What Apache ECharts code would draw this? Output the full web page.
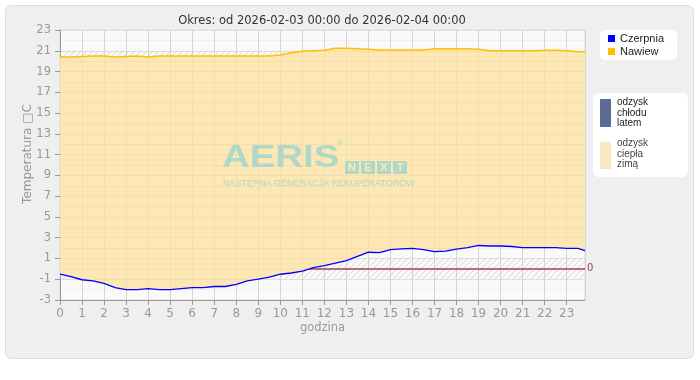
<!DOCTYPE html>
<html>
<head>
<meta charset="utf-8">
<script src="https://cdn.jsdelivr.net/npm/echarts@6/dist/echarts.min.js"></script>
<style>
html,body{margin:0;padding:0;background:#fff;}
#c{width:700px;height:380px;}
</style>
</head>
<body>
<div id="c"></div>
<script>
const titleText = 'Okres: od 2026-02-03 00:00 do 2026-02-04 00:00';
const hours = [0,0.5,1,1.5,2,2.5,3,3.5,4,4.5,5,5.5,6,6.5,7,7.5,8,8.5,9,9.5,10,10.5,11,11.5,12,12.5,13,13.5,14,14.5,15,15.5,16,16.5,17,17.5,18,18.5,19,19.5,20,20.5,21,21.5,22,22.5,23,23.5,23.83];
const czerpnia = [-0.5,-0.75,-1.05,-1.15,-1.4,-1.8,-2.0,-2.0,-1.9,-2.0,-2.0,-1.9,-1.8,-1.8,-1.7,-1.7,-1.5,-1.15,-1.0,-0.8,-0.52,-0.4,-0.22,0.11,0.3,0.55,0.8,1.2,1.6,1.56,1.85,1.92,1.98,1.85,1.65,1.7,1.9,2.05,2.25,2.2,2.2,2.15,2.05,2.05,2.05,2.05,1.98,1.98,1.75];
const nawiew = [20.4,20.4,20.45,20.5,20.5,20.4,20.45,20.5,20.4,20.5,20.5,20.5,20.5,20.5,20.5,20.5,20.5,20.5,20.5,20.5,20.6,20.8,20.95,21.0,21.05,21.25,21.25,21.2,21.15,21.07,21.07,21.07,21.07,21.07,21.2,21.2,21.2,21.2,21.15,21.0,21.0,21.0,21.0,21.0,21.05,21.05,21.0,20.9,20.9];
const yLabelValues = [-3,-1,1,3,5,7,9,11,13,15,17,19,21,23];
const comfortBands = [[-1,1],[19,21]];
const zeroLine = 0;
const seriesNames = ['Czerpnia','Nawiew'];
const legend2Items = [['odzysk','chłodu','latem'],['odzysk','ciepła','zimą']];

function hatch(){
  const c = document.createElement('canvas');
  c.width = 6; c.height = 6;
  const g = c.getContext('2d');
  g.strokeStyle = '#d8d8d8'; g.lineWidth = 1;
  g.beginPath(); g.moveTo(0,6); g.lineTo(6,0); g.stroke();
  g.beginPath(); g.moveTo(-1,1); g.lineTo(1,-1); g.stroke();
  g.beginPath(); g.moveTo(5,7); g.lineTo(7,5); g.stroke();
  return {image:c, repeat:'repeat'};
}

const czData = hours.map((h,i)=>[h,czerpnia[i]]);
const nwData = hours.map((h,i)=>[h,nawiew[i]]);
const fillData = hours.map((h,i)=>[h,czerpnia[i],nawiew[i]]);

const FONT = '"Liberation Sans", Arial, sans-serif';
const AXFONT = '"DejaVu Sans", Verdana, sans-serif';
const WM = '#b0d8c8';
const chart = echarts.init(document.getElementById('c'), null, {renderer:'canvas'});

function renderFill(params, api){
  if (params.dataIndex !== 0) return null;
  const pts = [];
  for (let i = 0; i < fillData.length; i++) pts.push(api.coord([fillData[i][0], fillData[i][2]]));
  for (let i = fillData.length - 1; i >= 0; i--) pts.push(api.coord([fillData[i][0], fillData[i][1]]));
  return {type:'polygon', shape:{points:pts}, style:{fill:'rgb(253,231,181)'}};
}

const wmText = (t, x) => ({type:'text', z:10, x:x, y:167.5, silent:true,
  style:{text:t, font:'bold 11px "Liberation Sans", Arial', fill:'#fde7b5', align:'center', verticalAlign:'middle'}});
const wmBox = (x) => ({type:'rect', z:10, silent:true, shape:{x:x, y:161, width:14, height:13}, style:{fill:WM}});

const overlayAxis = {show:true, axisLine:{show:false}, axisTick:{show:false}, axisLabel:{show:false}, z:3,
  splitLine:{show:true, lineStyle:{color:'rgba(170,130,60,0.07)'}}};

const option = {
  animation:false,
  backgroundColor:'#fff',
  textStyle:{fontFamily:FONT},
  title:{text:titleText, left:317, top:10, textAlign:'center',
    textStyle:{fontSize:11.5, fontWeight:'normal', color:'#333', fontFamily:AXFONT}},
  legend:{data:seriesNames, orient:'vertical', left:600, top:30,
    backgroundColor:'#fff', borderRadius:5, padding:[3,13,3,8], itemGap:2,
    itemWidth:7, itemHeight:7, icon:'rect',
    textStyle:{fontSize:11, color:'#222', fontFamily:FONT}},
  grid:{left:60, top:30, width:525, height:270, show:true, backgroundColor:'#f9f9f9', borderColor:'#ddd', borderWidth:1},
  xAxis:[{type:'value', min:0, max:23.83, interval:1,
    name:'godzina', nameLocation:'middle', nameGap:22, nameMoveOverlap:false,
    nameTextStyle:{color:'#999', fontSize:11.5, fontFamily:AXFONT},
    axisLine:{show:true, onZero:false, lineStyle:{color:'#999'}},
    axisTick:{show:true, length:5, lineStyle:{color:'#999'}},
    axisLabel:{color:'#999', fontSize:12, margin:8, showMaxLabel:false, fontFamily:AXFONT, formatter:v=>String(Math.round(v))},
    splitLine:{show:true, lineStyle:{color:'#dcdcdc'}}},
    Object.assign({type:'value', min:0, max:23.83, interval:1, position:'top'}, overlayAxis)],
  yAxis:[{type:'value', min:-3, max:23, interval:1,
    name:'Temperatura \u25A1C', nameLocation:'middle', nameGap:26, nameMoveOverlap:false,
    nameTextStyle:{color:'#999', fontSize:12, fontFamily:AXFONT, padding:[0,0,0,22]},
    axisLine:{show:true, lineStyle:{color:'#999'}},
    axisTick:{show:true, length:5, customValues:yLabelValues, lineStyle:{color:'#999'}},
    axisLabel:{color:'#999', fontSize:11.5, margin:9, fontFamily:AXFONT, customValues:yLabelValues},
    splitLine:{show:true, lineStyle:{color:'#e6e6e6'}}},
    Object.assign({type:'value', min:-3, max:23, interval:1, position:'right'}, overlayAxis)],
  series:[
    {name:'band', type:'line', data:czData, symbol:'none', silent:true, z:1,
      lineStyle:{width:0, opacity:0},
      markArea:{silent:true, z:1, itemStyle:{color:hatch()},
        data:comfortBands.map(b=>[{yAxis:b[0]},{yAxis:b[1]}])},
      markLine:{silent:true, z:1, symbol:'none',
        lineStyle:{color:'#a0405a', type:'solid', width:1.5},
        label:{position:'end', formatter:String(zeroLine), color:'#a0405a', fontSize:10, distance:2, fontFamily:AXFONT},
        data:[{yAxis:zeroLine}]}},
    {name:'fill', type:'custom', data:fillData, z:2, silent:true, clip:true,
      encode:{x:0, y:[1,2]}, renderItem:renderFill},
    {name:'Czerpnia', type:'line', data:czData, symbol:'none', z:4,
      itemStyle:{color:'#0000ff'}, lineStyle:{color:'#0000ff', width:1.3}},
    {name:'Nawiew', type:'line', data:nwData, symbol:'none', z:5,
      itemStyle:{color:'#ffbf00'}, lineStyle:{color:'#ffbf00', width:1.5}}
  ],
  graphic:[
    {type:'rect', z:-100, silent:true, shape:{x:5.5, y:5.5, width:688, height:353, r:6},
      style:{fill:'#efefef', stroke:'#dcdcdc', lineWidth:1}},
    {type:'text', z:10, silent:true, x:222, y:142, scaleX:1.2, style:{text:'AERIS', font:'bold 32px "Liberation Sans", Arial, sans-serif', fill:WM}},
    {type:'text', z:10, silent:true, x:337, y:139, style:{text:'®', font:'8px sans-serif', fill:WM}},
    wmBox(345), wmBox(361), wmBox(377), wmBox(393),
    wmText('N', 352), wmText('E', 368), wmText('X', 384), wmText('T', 400),
    {type:'text', z:10, silent:true, x:223, y:179, style:{text:'NASTĘPNA GENERACJA REKUPERATORÓW', font:'9px "Liberation Sans Narrow", "Liberation Sans", Arial', fill:WM}},
    {type:'rect', z:10, silent:true, shape:{x:593, y:93, width:95, height:84, r:6}, style:{fill:'#fff'}},
    {type:'rect', z:11, silent:true, shape:{x:600, y:99, width:11, height:28}, style:{fill:'#5c6b93'}},
    {type:'rect', z:11, silent:true, shape:{x:600, y:142, width:11, height:27}, style:{fill:'#fbe8c2'}},
    {type:'text', z:11, silent:true, x:617, y:97, style:{text:legend2Items[0].join('\n'), font:'10px "Liberation Sans", Arial', lineHeight:10.5, fill:'#222'}},
    {type:'text', z:11, silent:true, x:617, y:138, style:{text:legend2Items[1].join('\n'), font:'10px "Liberation Sans", Arial', lineHeight:10.5, fill:'#444'}}
  ]
};
chart.setOption(option);
</script>
</body>
</html>
